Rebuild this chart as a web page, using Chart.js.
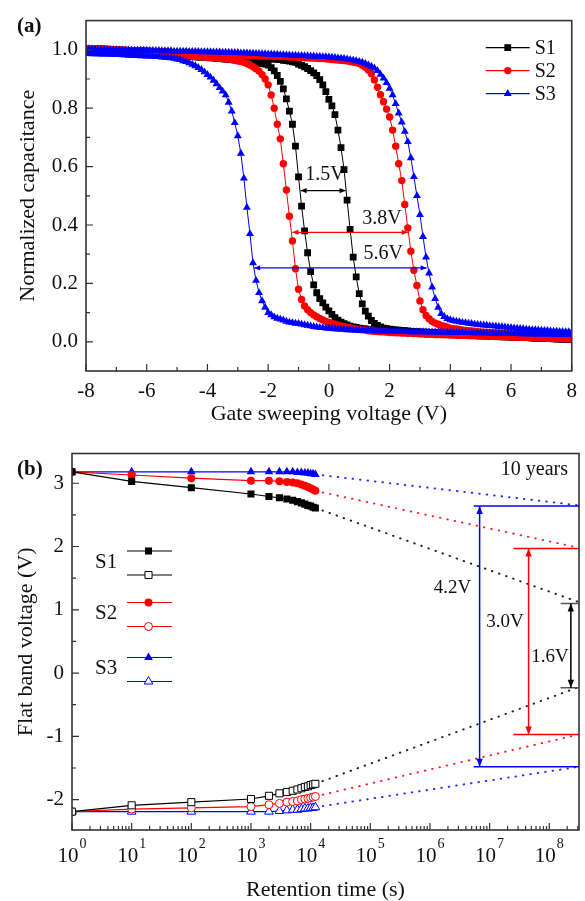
<!DOCTYPE html>
<html><head><meta charset="utf-8">
<script src="https://cdn.jsdelivr.net/npm/chart.js@4.4.1/dist/chart.umd.min.js"></script>
<style>
html,body{margin:0;padding:0;background:#fff;}
#wrap{position:relative;width:585px;height:901px;overflow:hidden;background:#fff;}
canvas{position:absolute;left:0;}
#ca{top:0;} #cb{top:430px;}
</style></head><body>
<div id="wrap"><canvas id="ca" width="585" height="430"></canvas><canvas id="cb" width="585" height="471"></canvas></div>
<script>
// ---------- Panel (a): C-V hysteresis ----------
const voltages = [
-8,-7.9,-7.8,-7.7,-7.6,-7.5,-7.4,-7.3,-7.2,-7.1,
-7,-6.9,-6.8,-6.7,-6.6,-6.5,-6.4,-6.3,-6.2,-6.1,
-6,-5.9,-5.8,-5.7,-5.6,-5.5,-5.4,-5.3,-5.2,-5.1,
-5,-4.9,-4.8,-4.7,-4.6,-4.5,-4.4,-4.3,-4.2,-4.1,
-4,-3.9,-3.8,-3.7,-3.6,-3.5,-3.4,-3.3,-3.2,-3.1,
-3,-2.9,-2.8,-2.7,-2.6,-2.5,-2.4,-2.3,-2.2,-2.1,
-2,-1.9,-1.8,-1.7,-1.6,-1.5,-1.4,-1.3,-1.2,-1.1,
-1,-0.9,-0.8,-0.7,-0.6,-0.5,-0.4,-0.3,-0.2,-0.1,
0,0.1,0.2,0.3,0.4,0.5,0.6,0.7,0.8,0.9,
1,1.1,1.2,1.3,1.4,1.5,1.6,1.7,1.8,1.9,
2,2.1,2.2,2.3,2.4,2.5,2.6,2.7,2.8,2.9,
3,3.1,3.2,3.3,3.4,3.5,3.6,3.7,3.8,3.9,
4,4.1,4.2,4.3,4.4,4.5,4.6,4.7,4.8,4.9,
5,5.1,5.2,5.3,5.4,5.5,5.6,5.7,5.8,5.9,
6,6.1,6.2,6.3,6.4,6.5,6.6,6.7,6.8,6.9,
7,7.1,7.2,7.3,7.4,7.5,7.6,7.7,7.8,7.9,
8];
const s1Left = [
0.995,0.995,0.994,0.994,0.993,0.993,0.992,0.992,0.991,0.991,
0.990,0.990,0.989,0.989,0.988,0.988,0.987,0.987,0.986,0.986,
0.985,0.985,0.984,0.984,0.983,0.983,0.982,0.982,0.981,0.981,
0.980,0.979,0.979,0.978,0.977,0.977,0.976,0.975,0.975,0.974,
0.973,0.972,0.972,0.971,0.970,0.969,0.968,0.967,0.966,0.965,
0.963,0.962,0.961,0.960,0.959,0.957,0.956,0.955,0.953,0.951,
0.948,0.939,0.928,0.912,0.892,0.866,0.832,0.790,0.745,0.670,
0.565,0.465,0.380,0.305,0.240,0.195,0.168,0.148,0.133,0.119,
0.106,0.094,0.083,0.074,0.067,0.062,0.058,0.054,0.051,0.049,
0.047,0.045,0.044,0.042,0.041,0.040,0.039,0.038,0.037,0.036,
0.035,0.035,0.034,0.034,0.033,0.033,0.032,0.032,0.031,0.031,
0.030,0.030,0.029,0.029,0.028,0.028,0.027,0.027,0.026,0.026,
0.025,0.025,0.024,0.024,0.023,0.023,0.022,0.022,0.021,0.021,
0.020,0.020,0.019,0.019,0.019,0.018,0.018,0.017,0.017,0.017,
0.016,0.016,0.015,0.015,0.015,0.014,0.014,0.013,0.013,0.013,
0.012,0.012,0.011,0.011,0.011,0.010,0.010,0.009,0.009,0.009,
0.008];
const s1Right = [
1.005,1.005,1.004,1.004,1.003,1.003,1.002,1.002,1.001,1.001,
1.000,1.000,0.999,0.999,0.998,0.998,0.997,0.997,0.996,0.996,
0.995,0.995,0.994,0.994,0.993,0.993,0.992,0.992,0.991,0.991,
0.990,0.990,0.989,0.989,0.988,0.988,0.987,0.987,0.986,0.986,
0.985,0.984,0.984,0.983,0.982,0.982,0.981,0.980,0.980,0.979,
0.978,0.977,0.977,0.976,0.975,0.974,0.974,0.973,0.972,0.971,
0.970,0.969,0.968,0.967,0.966,0.964,0.963,0.961,0.959,0.957,
0.951,0.947,0.942,0.936,0.929,0.921,0.912,0.898,0.880,0.857,
0.830,0.808,0.778,0.725,0.665,0.590,0.485,0.385,0.290,0.222,
0.165,0.130,0.105,0.088,0.073,0.063,0.056,0.051,0.047,0.045,
0.043,0.042,0.041,0.040,0.039,0.038,0.037,0.036,0.035,0.035,
0.034,0.033,0.033,0.032,0.032,0.031,0.031,0.030,0.030,0.029,
0.028,0.028,0.027,0.027,0.026,0.026,0.025,0.025,0.024,0.024,
0.023,0.022,0.022,0.021,0.021,0.020,0.020,0.019,0.019,0.018,
0.017,0.017,0.016,0.016,0.015,0.015,0.014,0.014,0.013,0.013,
0.012,0.012,0.011,0.011,0.010,0.010,0.010,0.009,0.009,0.009,
0.008];
const s2Left = [
0.997,0.997,0.996,0.996,0.995,0.995,0.994,0.994,0.993,0.993,
0.992,0.992,0.991,0.991,0.990,0.990,0.989,0.989,0.988,0.988,
0.987,0.987,0.986,0.986,0.985,0.984,0.984,0.983,0.983,0.982,
0.981,0.981,0.980,0.979,0.979,0.978,0.977,0.977,0.976,0.975,
0.974,0.974,0.973,0.972,0.971,0.970,0.969,0.968,0.967,0.965,
0.962,0.960,0.957,0.953,0.948,0.942,0.935,0.927,0.915,0.900,
0.880,0.845,0.800,0.745,0.695,0.610,0.520,0.430,0.345,0.250,
0.180,0.145,0.123,0.110,0.100,0.092,0.086,0.080,0.075,0.070,
0.066,0.063,0.060,0.057,0.054,0.052,0.050,0.048,0.046,0.044,
0.042,0.041,0.040,0.038,0.037,0.036,0.035,0.034,0.034,0.033,
0.032,0.032,0.031,0.031,0.030,0.030,0.029,0.029,0.028,0.028,
0.027,0.027,0.026,0.026,0.026,0.025,0.025,0.025,0.024,0.024,
0.023,0.023,0.023,0.022,0.022,0.022,0.021,0.021,0.021,0.020,
0.020,0.020,0.019,0.019,0.019,0.018,0.018,0.018,0.017,0.017,
0.016,0.016,0.016,0.015,0.015,0.015,0.014,0.014,0.014,0.013,
0.013,0.013,0.012,0.012,0.012,0.011,0.011,0.011,0.010,0.010,
0.010];
const s2Right = [
1.005,1.005,1.004,1.004,1.003,1.003,1.002,1.002,1.001,1.001,
1.000,1.000,0.999,0.999,0.998,0.998,0.997,0.997,0.996,0.996,
0.995,0.995,0.994,0.994,0.993,0.993,0.992,0.992,0.991,0.991,
0.990,0.990,0.989,0.989,0.989,0.988,0.988,0.987,0.987,0.987,
0.986,0.986,0.985,0.985,0.985,0.984,0.984,0.983,0.983,0.983,
0.982,0.982,0.981,0.981,0.980,0.980,0.980,0.979,0.979,0.979,
0.979,0.979,0.978,0.978,0.977,0.977,0.976,0.976,0.975,0.975,
0.974,0.974,0.973,0.973,0.972,0.972,0.971,0.970,0.970,0.969,
0.968,0.967,0.966,0.965,0.964,0.963,0.962,0.960,0.958,0.956,
0.953,0.947,0.940,0.931,0.918,0.897,0.872,0.846,0.822,0.797,
0.770,0.725,0.670,0.610,0.552,0.470,0.390,0.310,0.245,0.193,
0.140,0.110,0.090,0.079,0.070,0.064,0.060,0.056,0.053,0.050,
0.047,0.045,0.044,0.042,0.041,0.039,0.038,0.037,0.036,0.035,
0.034,0.033,0.033,0.032,0.031,0.030,0.030,0.029,0.028,0.028,
0.027,0.026,0.026,0.025,0.024,0.024,0.023,0.022,0.022,0.021,
0.020,0.020,0.019,0.018,0.018,0.017,0.016,0.016,0.015,0.015,
0.014];
const s3Left = [
0.987,0.987,0.986,0.986,0.986,0.985,0.985,0.985,0.984,0.984,
0.983,0.983,0.982,0.982,0.981,0.981,0.980,0.980,0.979,0.979,
0.978,0.978,0.977,0.977,0.976,0.975,0.974,0.973,0.972,0.970,
0.968,0.966,0.962,0.959,0.955,0.950,0.945,0.939,0.932,0.924,
0.915,0.906,0.895,0.883,0.870,0.858,0.845,0.820,0.790,0.750,
0.705,0.645,0.560,0.460,0.370,0.270,0.210,0.168,0.140,0.118,
0.100,0.092,0.085,0.080,0.077,0.074,0.070,0.067,0.065,0.063,
0.062,0.060,0.058,0.056,0.054,0.052,0.050,0.049,0.048,0.047,
0.046,0.045,0.044,0.043,0.043,0.042,0.041,0.041,0.040,0.040,
0.039,0.039,0.038,0.038,0.038,0.037,0.037,0.037,0.036,0.036,
0.036,0.036,0.035,0.035,0.035,0.035,0.035,0.034,0.034,0.034,
0.034,0.034,0.034,0.033,0.033,0.033,0.033,0.033,0.032,0.032,
0.032,0.032,0.032,0.031,0.031,0.031,0.031,0.031,0.030,0.030,
0.030,0.030,0.030,0.029,0.029,0.029,0.029,0.029,0.028,0.028,
0.028,0.028,0.028,0.027,0.027,0.027,0.027,0.027,0.026,0.026,
0.026,0.026,0.026,0.026,0.025,0.025,0.025,0.025,0.025,0.025,
0.025];
const s3Right = [
1.002,1.002,1.002,1.001,1.001,1.001,1.001,1.000,1.000,1.000,
1.000,0.999,0.999,0.999,0.999,0.998,0.998,0.998,0.998,0.998,
0.998,0.997,0.997,0.997,0.997,0.996,0.996,0.996,0.996,0.995,
0.995,0.995,0.995,0.995,0.994,0.994,0.994,0.994,0.993,0.993,
0.993,0.993,0.992,0.992,0.992,0.991,0.991,0.991,0.990,0.990,
0.990,0.989,0.989,0.989,0.988,0.988,0.987,0.987,0.986,0.986,
0.985,0.985,0.984,0.984,0.983,0.983,0.982,0.982,0.981,0.981,
0.980,0.980,0.979,0.979,0.978,0.978,0.977,0.977,0.976,0.976,
0.975,0.974,0.973,0.972,0.971,0.970,0.968,0.966,0.964,0.962,
0.960,0.957,0.953,0.948,0.943,0.937,0.928,0.916,0.903,0.887,
0.868,0.845,0.815,0.783,0.752,0.720,0.685,0.630,0.565,0.500,
0.435,0.360,0.290,0.235,0.187,0.148,0.118,0.096,0.086,0.079,
0.075,0.072,0.070,0.068,0.066,0.065,0.063,0.062,0.060,0.059,
0.058,0.057,0.056,0.055,0.054,0.053,0.052,0.051,0.050,0.049,
0.048,0.047,0.046,0.045,0.044,0.043,0.042,0.041,0.041,0.040,
0.039,0.038,0.038,0.037,0.036,0.036,0.035,0.035,0.034,0.034,
0.033];
const capXTicks = [-8,-6,-4,-2,0,2,4,6,8];
const capXMinor = [-7,-5,-3,-1,1,3,5,7];
const capYTicks = [0,0.2,0.4,0.6,0.8,1.0];
const capYMinor = [0.1,0.3,0.5,0.7,0.9];
// memory-window annotations
const windowLabels = ['1.5V','3.8V','5.6V'];
const windowLevel  = [0.518,0.375,0.253];
const windowFrom   = [-0.93,-1.20,-2.46];
const windowTo     = [0.55,2.60,3.22];
const windowTextV  = [-0.13,1.75,1.79];
const windowTextC  = [0.573,0.421,0.300];

// ---------- Panel (b): retention ----------
const times = [1,10,100,1000,2000,3000,4000,5000,6000,7000,8000,9000,10000,11000,12000];
const s1Program = [3.18,3.03,2.93,2.83,2.79,2.77,2.75,2.73,2.71,2.69,2.67,2.65,2.64,2.62,2.61];
const s1Erase   = [-2.19,-2.09,-2.04,-1.99,-1.94,-1.90,-1.88,-1.86,-1.84,-1.82,-1.80,-1.79,-1.77,-1.76,-1.75];
const s2Program = [3.18,3.13,3.08,3.04,3.04,3.03,3.02,3.01,3.00,2.98,2.96,2.94,2.92,2.90,2.88];
const s2Erase   = [-2.19,-2.15,-2.13,-2.11,-2.08,-2.06,-2.04,-2.03,-2.02,-2.00,-1.99,-1.98,-1.97,-1.96,-1.95];
const s3Program = [3.18,3.18,3.18,3.18,3.18,3.18,3.18,3.18,3.17,3.17,3.16,3.16,3.15,3.15,3.14];
const s3Erase   = [-2.19,-2.19,-2.19,-2.19,-2.19,-2.18,-2.17,-2.16,-2.16,-2.15,-2.14,-2.14,-2.13,-2.13,-2.12];
const tenYears = 3.15e8;
const tenYearProgram = [1.12,1.98,2.65];   // S1, S2, S3 extrapolated
const tenYearErase   = [-0.22,-0.97,-1.48];
const retXTicks = [1,10,100,1e3,1e4,1e5,1e6,1e7,1e8];
const retXExponents = ['0','1','2','3','4','5','6','7','8'];
const retYTicks = [-2,-1,0,1,2,3];
const retYMinor = [-1.5,-0.5,0.5,1.5,2.5];
const bracketLabels = ['4.2V','3.0V','1.6V'];
const bracketArrowT = [6.8e6,4.5e7,2.3e8];
const bracketLineT  = [5.4e6,2.5e7,1.55e8];
const bracketHigh   = [2.64,1.97,1.10];
const bracketLow    = [-1.48,-0.97,-0.23];
const bracketTextT  = [2.39e6,1.81e7,1.03e8];
const bracketTextV  = [1.35,0.81,0.26];

// ---------- helpers ----------
const FONT = "'Liberation Serif','Times New Roman',serif";
const BLACK = '#000000', RED = '#ff0000', BLUE = '#0000ff';
const TXT = '#111111';

function drawMarker(ctx, style, x, y, r, color, open) {
  ctx.beginPath();
  if (style === 'rect') { const s = r * Math.SQRT1_2; ctx.rect(x - s, y - s, 2 * s, 2 * s); }
  else if (style === 'circle') { ctx.arc(x, y, r, 0, Math.PI * 2); }
  else { ctx.moveTo(x, y - r); ctx.lineTo(x + r * 0.866, y + r * 0.5); ctx.lineTo(x - r * 0.866, y + r * 0.5); ctx.closePath(); }
  if (open) { ctx.fillStyle = '#fff'; ctx.fill(); ctx.lineWidth = 1; ctx.strokeStyle = color; ctx.stroke(); }
  else { ctx.fillStyle = color; ctx.fill(); }
}
function arrowHead(ctx, x, y, ang, color, L, W) {
  ctx.save(); ctx.fillStyle = color; ctx.translate(x, y); ctx.rotate(ang);
  ctx.beginPath(); ctx.moveTo(0, 0); ctx.lineTo(-L, -W); ctx.lineTo(-L, W); ctx.closePath(); ctx.fill(); ctx.restore();
}
function doubleArrow(ctx, x1, y1, x2, y2, color, lw, L, W) {
  ctx.save(); ctx.strokeStyle = color; ctx.lineWidth = lw;
  ctx.beginPath(); ctx.moveTo(x1, y1); ctx.lineTo(x2, y2); ctx.stroke();
  const a = Math.atan2(y2 - y1, x2 - x1);
  arrowHead(ctx, x2, y2, a, color, L, W);
  arrowHead(ctx, x1, y1, a + Math.PI, color, L, W);
  ctx.restore();
}
function frameAndTicks(chart, xMaj, xMin, yMaj, yMin) {
  const {ctx, chartArea: ca, scales: {x, y}} = chart;
  ctx.save();
  ctx.strokeStyle = '#333'; ctx.lineWidth = 1.2;
  ctx.beginPath();
  xMaj.forEach(v => { const p = x.getPixelForValue(v); ctx.moveTo(p, ca.bottom); ctx.lineTo(p, ca.bottom - 7); });
  xMin.forEach(v => { const p = x.getPixelForValue(v); ctx.moveTo(p, ca.bottom); ctx.lineTo(p, ca.bottom - 4); });
  yMaj.forEach(v => { const p = y.getPixelForValue(v); ctx.moveTo(ca.left, p); ctx.lineTo(ca.left + 7, p); });
  yMin.forEach(v => { const p = y.getPixelForValue(v); ctx.moveTo(ca.left, p); ctx.lineTo(ca.left + 4, p); });
  ctx.stroke();
  ctx.lineWidth = 1.6;
  ctx.strokeRect(ca.left, ca.top, ca.right - ca.left, ca.bottom - ca.top);
  ctx.restore();
}

// ---------- chart (a) ----------
const capSeries = [
  {name: 'S1', color: BLACK, style: 'rect', r: 4.8, order: 2, left: s1Left, right: s1Right},
  {name: 'S2', color: RED, style: 'circle', r: 3.7, order: 1, left: s2Left, right: s2Right},
  {name: 'S3', color: BLUE, style: 'triangle', r: 4.6, order: 0, left: s3Left, right: s3Right}
];
const capDatasets = [];
capSeries.forEach(s => {
  [s.left, s.right].forEach((vals, k) => {
    capDatasets.push({
      label: s.name + (k ? ' sweep back' : ' sweep'),
      data: voltages.map((v, i) => ({x: v, y: vals[i]})),
      borderColor: s.color, backgroundColor: s.color, borderWidth: 1,
      pointStyle: s.style, pointRadius: s.r, pointHoverRadius: s.r,
      pointBackgroundColor: s.color, pointBorderWidth: 0, tension: 0, order: s.order
    });
  });
});

const capDecor = {
  id: 'capDecor',
  afterDraw(chart) {
    const {ctx, chartArea: ca, scales: {x, y}} = chart;
    frameAndTicks(chart, capXTicks, capXMinor, capYTicks, capYMinor);
    ctx.save();
    const wColors = [BLACK, RED, BLUE];
    windowLabels.forEach((lab, i) => {
      const py = y.getPixelForValue(windowLevel[i]);
      doubleArrow(ctx, x.getPixelForValue(windowFrom[i]), py, x.getPixelForValue(windowTo[i]), py, wColors[i], 1.2, 6, 2.6);
      ctx.fillStyle = TXT; ctx.font = '20px ' + FONT; ctx.textAlign = 'center'; ctx.textBaseline = 'middle';
      ctx.fillText(lab, x.getPixelForValue(windowTextV[i]), y.getPixelForValue(windowTextC[i]));
    });
    // legend
    capSeries.forEach((s, i) => {
      const yy = ca.top + 27 + i * 23;
      const x1 = ca.right - 86, x2 = ca.right - 42;
      ctx.strokeStyle = s.color; ctx.lineWidth = 1.2;
      ctx.beginPath(); ctx.moveTo(x1, yy); ctx.lineTo(x2, yy); ctx.stroke();
      drawMarker(ctx, s.style, (x1 + x2) / 2, yy, s.r, s.color, false);
      ctx.fillStyle = TXT; ctx.font = '20px ' + FONT; ctx.textAlign = 'left'; ctx.textBaseline = 'middle';
      ctx.fillText(s.name, x2 + 5, yy + 1);
    });
    ctx.font = 'bold 21px ' + FONT; ctx.textAlign = 'left'; ctx.textBaseline = 'middle'; ctx.fillStyle = TXT;
    ctx.fillText('(a)', 17, 27);
    ctx.restore();
  }
};

new Chart(document.getElementById('ca'), {
  type: 'line',
  data: {datasets: capDatasets},
  options: {
    responsive: false, animation: false, devicePixelRatio: 1,
    layout: {padding: {left: 0, top: 7, right: 11, bottom: 0}},
    plugins: {legend: {display: false}, tooltip: {enabled: false}},
    scales: {
      x: {
        type: 'linear', min: -8, max: 8,
        grid: {display: false, drawTicks: false}, border: {display: false},
        afterBuildTicks: s => { s.ticks = capXTicks.map(v => ({value: v})); },
        afterFit: s => { s.height = 59; },
        ticks: {font: {family: FONT, size: 21}, color: TXT, padding: 8, maxRotation: 0, autoSkip: false, callback: v => String(v)},
        title: {display: true, text: 'Gate sweeping voltage (V)', font: {family: FONT, size: 22, lineHeight: 1}, color: TXT, padding: {top: 0, bottom: 5}}
      },
      y: {
        type: 'linear', min: -0.1, max: 1.1,
        grid: {display: false, drawTicks: false}, border: {display: false},
        afterBuildTicks: s => { s.ticks = capYTicks.map(v => ({value: v})); },
        afterFit: s => { s.width = 86; },
        ticks: {font: {family: FONT, size: 21}, color: TXT, padding: 8, autoSkip: false, callback: v => Number(v).toFixed(1)},
        title: {display: true, text: 'Normalized capacitance', font: {family: FONT, size: 22, lineHeight: 1}, color: TXT, padding: {top: 17, bottom: 0}}
      }
    }
  },
  plugins: [capDecor]
});

// ---------- chart (b) ----------
const retSeries = [
  {name: 'S1', color: BLACK, dot: '#222', style: 'rect', r: 5, order: 0, prog: s1Program, erase: s1Erase},
  {name: 'S2', color: RED, dot: '#ff2222', style: 'circle', r: 4, order: 1, prog: s2Program, erase: s2Erase},
  {name: 'S3', color: BLUE, dot: '#2233ff', style: 'triangle', r: 5, order: 2, prog: s3Program, erase: s3Erase}
];
const retDatasets = [];
retSeries.forEach((s, si) => {
  [s.prog, s.erase].forEach((vals, k) => {
    retDatasets.push({
      label: s.name + (k ? ' erased' : ' programmed'),
      data: times.map((t, i) => ({x: t, y: vals[i]})),
      borderColor: s.color, backgroundColor: s.color, borderWidth: 1.2,
      pointStyle: s.style, pointRadius: s.r, pointHoverRadius: s.r,
      pointBackgroundColor: k ? '#ffffff' : s.color, pointBorderColor: s.color,
      pointBorderWidth: k ? 1 : 0, tension: 0, order: s.order
    });
    const last = times.length - 1;
    retDatasets.push({
      label: s.name + (k ? ' erased' : ' programmed') + ' extrapolation',
      data: [{x: times[last], y: vals[last]}, {x: tenYears, y: (k ? tenYearErase : tenYearProgram)[si]}],
      borderColor: s.dot, borderWidth: 2, borderDash: [0.5, 7], borderCapStyle: 'round',
      pointRadius: 0, pointHoverRadius: 0, tension: 0, order: 10
    });
  });
});

const retDecor = {
  id: 'retDecor',
  afterDraw(chart) {
    const {ctx, chartArea: ca, scales: {x, y}} = chart;
    const minor = [];
    for (let k = 0; k <= 8; k++) for (let m = 2; m <= 9; m++) { const v = m * Math.pow(10, k); if (v < tenYears) minor.push(v); }
    frameAndTicks(chart, retXTicks, minor, retYTicks, retYMinor);
    ctx.save();
    // x tick labels: 10 with raised exponent
    ctx.fillStyle = TXT; ctx.textBaseline = 'alphabetic'; ctx.textAlign = 'left';
    retXTicks.forEach((v, i) => {
      const px = x.getPixelForValue(v);
      ctx.font = '21px ' + FONT; const wb = ctx.measureText('10').width;
      ctx.font = '14px ' + FONT; const we = ctx.measureText(retXExponents[i]).width;
      const start = px - (wb + we + 1) / 2;
      ctx.font = '21px ' + FONT; ctx.fillText('10', start, ca.bottom + 32);
      ctx.font = '14px ' + FONT; ctx.fillText(retXExponents[i], start + wb + 1, ca.bottom + 18);
    });
    const bColors = [BLUE, RED, BLACK];
    const bLine = [BLUE, RED, '#555'];
    bracketLabels.forEach((lab, i) => {
      const xv = x.getPixelForValue(bracketArrowT[i]), xs = x.getPixelForValue(bracketLineT[i]);
      const yh = y.getPixelForValue(bracketHigh[i]), yl = y.getPixelForValue(bracketLow[i]);
      ctx.strokeStyle = bLine[i]; ctx.lineWidth = 1.5;
      ctx.beginPath(); ctx.moveTo(xs, yh); ctx.lineTo(ca.right, yh); ctx.moveTo(xs, yl); ctx.lineTo(ca.right, yl); ctx.stroke();
      doubleArrow(ctx, xv, yh, xv, yl, bColors[i], 1.5, 8, 3.2);
      ctx.fillStyle = TXT; ctx.font = '19px ' + FONT; ctx.textAlign = 'center'; ctx.textBaseline = 'middle';
      ctx.fillText(lab, x.getPixelForValue(bracketTextT[i]), y.getPixelForValue(bracketTextV[i]));
    });
    ctx.fillStyle = TXT; ctx.font = '20px ' + FONT; ctx.textAlign = 'right'; ctx.textBaseline = 'middle';
    ctx.fillText('10 years', ca.right - 11, ca.top + 16);
    // legend
    retSeries.forEach((s, i) => {
      const base = ca.top + [97.5, 149, 204][i];
      const x1 = ca.left + 55, x2 = ca.left + 100, xm = ca.left + 76.5;
      [0, 1].forEach(k => {
        const yy = base + k * 24;
        ctx.strokeStyle = s.color; ctx.lineWidth = 1.2;
        ctx.beginPath(); ctx.moveTo(x1, yy); ctx.lineTo(x2, yy); ctx.stroke();
        drawMarker(ctx, s.style, xm, yy, s.r, s.color, k === 1);
      });
      ctx.fillStyle = TXT; ctx.font = '21px ' + FONT; ctx.textAlign = 'left'; ctx.textBaseline = 'middle';
      ctx.fillText(s.name, ca.left + 23, base + 11);
    });
    ctx.font = 'bold 21px ' + FONT; ctx.textAlign = 'left'; ctx.textBaseline = 'middle'; ctx.fillStyle = TXT;
    ctx.fillText('(b)', 17, 40);
    ctx.restore();
  }
};

new Chart(document.getElementById('cb'), {
  type: 'line',
  data: {datasets: retDatasets},
  options: {
    responsive: false, animation: false, devicePixelRatio: 1,
    layout: {padding: {left: 0, top: 23.5, right: 6, bottom: 0}},
    plugins: {legend: {display: false}, tooltip: {enabled: false}},
    scales: {
      x: {
        type: 'logarithmic', min: 1, max: tenYears,
        grid: {display: false, drawTicks: false}, border: {display: false},
        afterBuildTicks: s => { s.ticks = retXTicks.map(v => ({value: v})); },
        afterFit: s => { s.height = 71; },
        ticks: {display: false},
        title: {display: true, text: 'Retention time (s)', font: {family: FONT, size: 22, lineHeight: 1}, color: TXT, padding: {top: 0, bottom: 0}}
      },
      y: {
        type: 'linear', min: -2.48, max: 3.47,
        grid: {display: false, drawTicks: false}, border: {display: false},
        afterBuildTicks: s => { s.ticks = retYTicks.map(v => ({value: v})); },
        afterFit: s => { s.width = 72; },
        ticks: {font: {family: FONT, size: 21}, color: TXT, padding: 8, autoSkip: false, callback: v => String(v)},
        title: {display: true, text: 'Flat band voltage (V)', font: {family: FONT, size: 22, lineHeight: 1}, color: TXT, padding: {top: 15, bottom: 0}}
      }
    }
  },
  plugins: [retDecor]
});
</script>
</body></html>
